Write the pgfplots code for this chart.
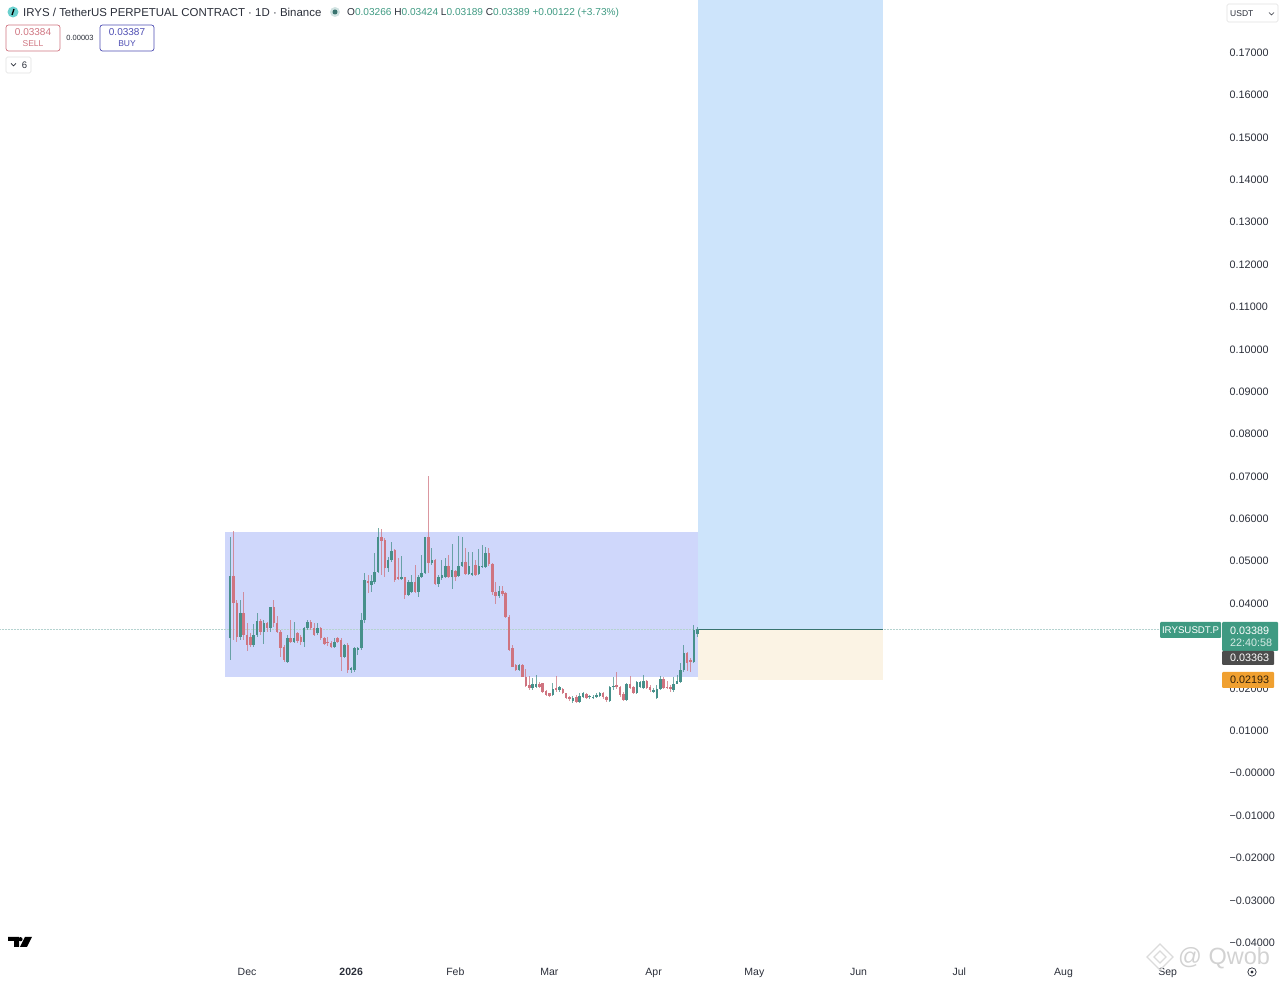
\documentclass[border=0pt]{standalone}
\usepackage{pgfplots}
\usepackage{pgfplotstable}
\usepackage{fontspec}
\setmainfont{Liberation Sans}
\pgfplotsset{compat=1.18}
\definecolor{cgreen}{HTML}{46908A}
\definecolor{cred}{HTML}{CF7480}
\definecolor{boxlav}{HTML}{CFD7FB}
\definecolor{boxblue}{HTML}{CDE4FB}
\definecolor{boxcream}{HTML}{FBF3E4}
\definecolor{lblgreen}{HTML}{3F9A82}
\definecolor{lblorange}{HTML}{F0A030}
\definecolor{lbldark}{HTML}{4C4C4C}
\definecolor{txt}{HTML}{2A2E39}
\pgfplotstableread{
d o h l c
-5 0.03165 0.05548 0.02654 0.04636
-2 0.03205 0.04070 0.03126 0.03755
2 0.03008 0.03503 0.02953 0.03244
3 0.03244 0.03771 0.03205 0.03574
5 0.03323 0.03598 0.03032 0.03519
7 0.03417 0.03912 0.03323 0.03897
12 0.02615 0.03244 0.02591 0.03165
14 0.03087 0.03558 0.03063 0.03165
17 0.03087 0.03441 0.02969 0.03401
18 0.03401 0.03598 0.03362 0.03543
21 0.03283 0.03519 0.03244 0.03401
26 0.02953 0.03165 0.02929 0.03087
29 0.02733 0.03024 0.02693 0.03008
31 0.02418 0.02497 0.02355 0.02457
32 0.02418 0.02969 0.02379 0.02929
33 0.02890 0.02953 0.02772 0.02929
34 0.02929 0.03755 0.02890 0.03598
35 0.03598 0.04699 0.03535 0.04542
37 0.04424 0.04660 0.04266 0.04526
38 0.04502 0.05171 0.04447 0.04738
39 0.04738 0.05761 0.04723 0.05548
42 0.04817 0.05092 0.04738 0.05014
43 0.05014 0.05446 0.04974 0.05234
46 0.04557 0.05108 0.04542 0.04605
48 0.04188 0.04542 0.04172 0.04502
49 0.04266 0.04660 0.04227 0.04502
51 0.04266 0.04660 0.04148 0.04620
52 0.04620 0.05131 0.04581 0.04699
53 0.04699 0.05564 0.04683 0.05548
55 0.04935 0.05289 0.04896 0.05014
57 0.04447 0.04660 0.04384 0.04620
58 0.04581 0.05014 0.04542 0.04660
59 0.04620 0.05053 0.04581 0.04872
61 0.04605 0.05391 0.04321 0.04778
63 0.04636 0.05580 0.04620 0.04872
64 0.04872 0.05548 0.04840 0.04974
66 0.04683 0.05210 0.04660 0.04872
67 0.04660 0.05210 0.04636 0.04699
69 0.04683 0.05265 0.04660 0.04872
70 0.04856 0.05367 0.04840 0.04872
71 0.04856 0.05312 0.04840 0.05171
75 0.04164 0.04400 0.04109 0.04290
81 0.02418 0.02560 0.02402 0.02536
85 0.01986 0.02221 0.01946 0.02088
86 0.02025 0.02300 0.02009 0.02088
91 0.01828 0.02119 0.01805 0.01962
93 0.01946 0.02041 0.01907 0.02009
97 0.01695 0.01805 0.01648 0.01750
99 0.01671 0.01884 0.01648 0.01805
100 0.01773 0.01907 0.01750 0.01868
102 0.01773 0.01828 0.01742 0.01805
103 0.01758 0.01828 0.01726 0.01789
104 0.01773 0.01868 0.01750 0.01821
105 0.01805 0.01907 0.01773 0.01868
108 0.01695 0.02041 0.01679 0.02009
109 0.02009 0.02261 0.01946 0.02041
113 0.01710 0.02119 0.01695 0.02088
116 0.01868 0.02159 0.01852 0.02143
117 0.02009 0.02167 0.01986 0.02143
118 0.01986 0.02300 0.01962 0.02167
121 0.01907 0.01986 0.01868 0.01946
122 0.01750 0.02064 0.01726 0.01962
123 0.01962 0.02277 0.01946 0.02198
127 0.01946 0.02261 0.01907 0.02088
128 0.02088 0.02300 0.02088 0.02151
129 0.02143 0.02576 0.02119 0.02418
130 0.02418 0.03008 0.02379 0.02812
133 0.02615 0.03480 0.02591 0.03362
134 0.03266 0.03424 0.03189 0.03389
}\upcandles
\pgfplotstableread{
d o h l c
-4 0.04636 0.05706 0.03126 0.04007
-3 0.04007 0.04070 0.03087 0.03205
-1 0.03755 0.04251 0.03126 0.03244
0 0.03244 0.03519 0.02874 0.03008
1 0.03205 0.03283 0.02969 0.03008
4 0.03574 0.03614 0.03244 0.03323
6 0.03519 0.03558 0.03323 0.03417
8 0.03897 0.04070 0.03441 0.03519
9 0.03519 0.03692 0.03299 0.03323
10 0.03323 0.03362 0.02733 0.02929
11 0.02969 0.03008 0.02615 0.02654
13 0.03165 0.03598 0.03047 0.03087
15 0.03283 0.03323 0.03063 0.03110
16 0.03205 0.03244 0.03008 0.03087
19 0.03543 0.03598 0.03362 0.03401
20 0.03401 0.03519 0.03220 0.03244
22 0.03401 0.03441 0.03126 0.03165
23 0.03165 0.03205 0.03008 0.03032
24 0.03087 0.03205 0.02985 0.03047
25 0.03063 0.03102 0.02929 0.02953
27 0.03165 0.03189 0.03063 0.03087
28 0.03126 0.03165 0.02402 0.02733
30 0.03008 0.03047 0.02340 0.02418
36 0.04526 0.04660 0.04227 0.04479
40 0.05548 0.05737 0.04660 0.05462
41 0.05485 0.05525 0.04620 0.04817
44 0.05249 0.05265 0.04502 0.04542
45 0.04620 0.05053 0.04542 0.04557
47 0.04605 0.04620 0.04085 0.04188
50 0.04502 0.04896 0.04243 0.04266
54 0.05548 0.06995 0.04699 0.04935
56 0.05014 0.05029 0.04424 0.04447
60 0.04872 0.05131 0.04581 0.04605
62 0.04762 0.04778 0.04526 0.04620
65 0.04974 0.05289 0.04660 0.04683
68 0.04896 0.05014 0.04636 0.04660
72 0.05171 0.05289 0.04872 0.04919
73 0.04919 0.04951 0.04188 0.04266
74 0.04266 0.04502 0.03975 0.04164
76 0.04290 0.04400 0.04164 0.04203
77 0.04227 0.04266 0.03637 0.03677
78 0.03677 0.03716 0.02874 0.02890
79 0.02929 0.03008 0.02481 0.02497
80 0.02536 0.02560 0.02402 0.02418
82 0.02536 0.02560 0.02245 0.02261
83 0.02261 0.02434 0.02009 0.02041
84 0.02064 0.02277 0.01946 0.01986
87 0.02088 0.02143 0.01986 0.02009
88 0.02104 0.02104 0.01868 0.01907
89 0.01931 0.01946 0.01805 0.01828
90 0.01868 0.01884 0.01773 0.01805
92 0.01986 0.02285 0.01907 0.01946
94 0.01970 0.01986 0.01852 0.01868
95 0.01868 0.01884 0.01726 0.01750
96 0.01773 0.01805 0.01695 0.01726
98 0.01773 0.01828 0.01632 0.01671
101 0.01852 0.01868 0.01742 0.01758
106 0.01868 0.01907 0.01726 0.01773
107 0.01773 0.01805 0.01671 0.01710
110 0.02064 0.02363 0.01962 0.02009
111 0.02009 0.02041 0.01773 0.01828
112 0.01852 0.01907 0.01695 0.01710
114 0.02088 0.02277 0.01962 0.01986
115 0.02009 0.02041 0.01852 0.01868
119 0.02167 0.02182 0.01962 0.01986
120 0.02009 0.02064 0.01907 0.01946
124 0.02198 0.02261 0.01962 0.01986
125 0.02025 0.02167 0.01962 0.01994
126 0.02009 0.02064 0.01907 0.01962
131 0.02812 0.02851 0.02403 0.02576
132 0.02654 0.02694 0.02379 0.02615
}\downcandles
\newcommand{\wicks}[2]{%
  \addplot[draw=none,no markers,forget plot,
    error bars/.cd,y dir=both,y explicit,error mark=none,
    error bar style={draw=#2,line width=0.9pt,opacity=0.75}]
    table[x=d,y=o,y error plus expr=\thisrow{h}-\thisrow{o},y error minus expr=\thisrow{o}-\thisrow{l}]{#1};}
\newcommand{\bodyup}[2]{%
  \addplot[draw=none,no markers,forget plot,
    error bars/.cd,y dir=plus,y explicit,error mark=none,
    error bar style={draw=#2,line width=2.5pt}]
    table[x=d,y=o,y error plus expr=\thisrow{c}-\thisrow{o}]{#1};}
\newcommand{\bodydown}[2]{%
  \addplot[draw=none,no markers,forget plot,
    error bars/.cd,y dir=minus,y explicit,error mark=none,
    error bar style={draw=#2,line width=2.5pt}]
    table[x=d,y=o,y error minus expr=\thisrow{o}-\thisrow{c}]{#1};}
\begin{document}
\begin{tikzpicture}[x=1pt,y=1pt]
\path[use as bounding box] (0,0) rectangle (1280,981);
\begin{axis}[
  at={(0pt,23pt)},anchor=south west,
  scale only axis,width=1222pt,height=958pt,
  xmin=-73.51,xmax=290.18,ymin=-0.04378,ymax=0.18227,
  axis line style={draw=none},
  major tick length=0pt,
  xtick pos=bottom,ytick pos=right,yticklabel pos=right,
  xtick={0,31,62,90,121,151,182,212,243,274},
  xticklabels={Dec,\textbf{2026},Feb,Mar,Apr,May,Jun,Jul,Aug,Sep},
  ytick={-0.04,-0.03,-0.02,-0.01,0,0.01,0.02,0.03,0.04,0.05,0.06,0.07,0.08,0.09,0.10,0.11,0.12,0.13,0.14,0.15,0.16,0.17},
  yticklabels={−0.04000,−0.03000,−0.02000,−0.01000,−0.00000,0.01000,0.02000,0.03000,0.04000,0.05000,0.06000,0.07000,0.08000,0.09000,0.10000,0.11000,0.12000,0.13000,0.14000,0.15000,0.16000,0.17000},
  xticklabel style={font=\fontsize{10.5}{12}\selectfont,text=txt,text height=8pt,text depth=2.5pt,yshift=-5.5pt},
  yticklabel style={font=\fontsize{10.8}{12}\selectfont,text=txt,anchor=west,xshift=4pt,yshift=-0.7pt},
]
\addplot[fill=boxlav,draw=none,forget plot] coordinates {(-6.55,0.02253)(134.2,0.02253)(134.2,0.05674)(-6.55,0.05674)} --cycle;
\addplot[fill=boxblue,draw=none,forget plot] coordinates {(134.2,0.03363)(189.3,0.03363)(189.3,0.18227)(134.2,0.18227)} --cycle;
\addplot[fill=boxcream,draw=none,forget plot] coordinates {(134.2,0.02193)(189.3,0.02193)(189.3,0.03363)(134.2,0.03363)} --cycle;
\addplot[densely dotted,color=cgreen!40,line width=0.5pt,forget plot] coordinates {(-73.51,0.03389)(271.7,0.03389)};
\addplot[color=cgreen!80!black,line width=0.9pt,forget plot] coordinates {(134.2,0.03363)(189.3,0.03363)};
\wicks{\upcandles}{cgreen}
\wicks{\downcandles}{cred}
\bodyup{\upcandles}{cgreen}
\bodydown{\downcandles}{cred}
\end{axis}
\begin{scope}[shift={(0,981)},y=-1pt,x=1pt]
% header
\fill[cgreen!60!cyan!70] (13,12) circle (5.5);
\draw[black,line width=1.4pt] (12,15) -- (14,9);
\node[anchor=west,inner sep=0,text=txt,font=\fontsize{11.45}{13}\selectfont] at (23,12.5) {IRYS / TetherUS PERPETUAL CONTRACT · 1D · Binance};
\fill[cgreen!25] (335,12) circle (5);
\fill[cgreen!80!black] (335,12) circle (2.5);
\node[anchor=west,inner sep=0,font=\fontsize{10.1}{11}\selectfont] at (347,12.5) {\textcolor{txt}{O}\textcolor{lblgreen}{0.03266} \textcolor{txt}{H}\textcolor{lblgreen}{0.03424} \textcolor{txt}{L}\textcolor{lblgreen}{0.03189} \textcolor{txt}{C}\textcolor{lblgreen}{0.03389} \textcolor{lblgreen}{+0.00122 (+3.73\%)}};
\draw[cred,rounded corners=2.5pt,line width=0.7pt] (6,25) rectangle (60,51);
\node[text=cred,inner sep=0,font=\fontsize{10}{11}\selectfont] at (33,32.5) {0.03384};
\node[text=cred,inner sep=0,font=\fontsize{8.5}{10}\selectfont] at (33,43.5) {SELL};
\node[text=txt,inner sep=0,font=\fontsize{7.5}{9}\selectfont] at (80,38) {0.00003};
\draw[blue!40!gray,rounded corners=2.5pt,line width=0.7pt] (100,25) rectangle (154,51);
\node[text=blue!40!gray,inner sep=0,font=\fontsize{10}{11}\selectfont] at (127,32.5) {0.03387};
\node[text=blue!40!gray,inner sep=0,font=\fontsize{8.5}{10}\selectfont] at (127,43.5) {BUY};
\draw[gray!25,rounded corners=1.5pt,line width=0.6pt] (6,57) rectangle (31,73);
\draw[txt,line width=0.7pt] (11,63.5) -- (13.5,66) -- (16,63.5);
\node[text=txt,inner sep=0,font=\fontsize{9.5}{11}\selectfont] at (24.5,65) {6};
% currency selector
\draw[gray!25,rounded corners=1.5pt,line width=0.6pt] (1227,4) rectangle (1278,22);
\node[anchor=west,text=txt,inner sep=0,font=\fontsize{8.5}{10}\selectfont] at (1230,13.5) {USDT};
\draw[txt,line width=0.6pt] (1269,12.5) -- (1271.5,15) -- (1274,12.5);
% price labels
\fill[lblgreen,rounded corners=1pt] (1160,622) rectangle (1221,638);
\node[text=white,inner sep=0,font=\fontsize{9.7}{12}\selectfont] at (1190.5,630) {IRYSUSDT.P};
\fill[lblgreen,rounded corners=1pt] (1222,622) rectangle (1278,651);
\node[anchor=west,text=white,inner sep=0,font=\fontsize{10.8}{12}\selectfont] at (1230,630.5) {0.03389};
\node[anchor=west,text=white!80!lblgreen,inner sep=0,font=\fontsize{10.8}{12}\selectfont] at (1230,643) {22:40:58};
\fill[lbldark,rounded corners=1pt] (1222,651) rectangle (1274,665);
\node[anchor=west,text=white,inner sep=0,font=\fontsize{10.8}{12}\selectfont] at (1230,658) {0.03363};
\fill[lblorange,rounded corners=1pt] (1222,672) rectangle (1274,688);
\node[anchor=west,text=black!80!lblorange,inner sep=0,font=\fontsize{10.8}{12}\selectfont] at (1230,680) {0.02193};
% logo
\fill[black] (8,937) -- (19,937) -- (19,947) -- (14,947) -- (14,941) -- (8,941) --cycle;
\fill[black] (20.5,939.2) circle (2.1);
\fill[black] (25,937) -- (32,937) -- (27,947) -- (20,947) --cycle;
% settings icon
\draw[txt,line width=0.7pt] (1252,972) circle (4.2);
\fill[txt] (1252,972) circle (1.7);
% watermark
\begin{scope}[gray!28,line width=1.2pt]
\draw (1160,944) -- (1173,957) -- (1160,970) -- (1147,957) --cycle;
\draw (1160,951) -- (1166,957) -- (1160,963) -- (1154,957) --cycle;
\end{scope}
\node[anchor=west,text=gray!35,inner sep=0,font=\fontsize{23.5}{25}\selectfont] at (1178,958) {@ Qwob};
\end{scope}
\end{tikzpicture}
\end{document}
